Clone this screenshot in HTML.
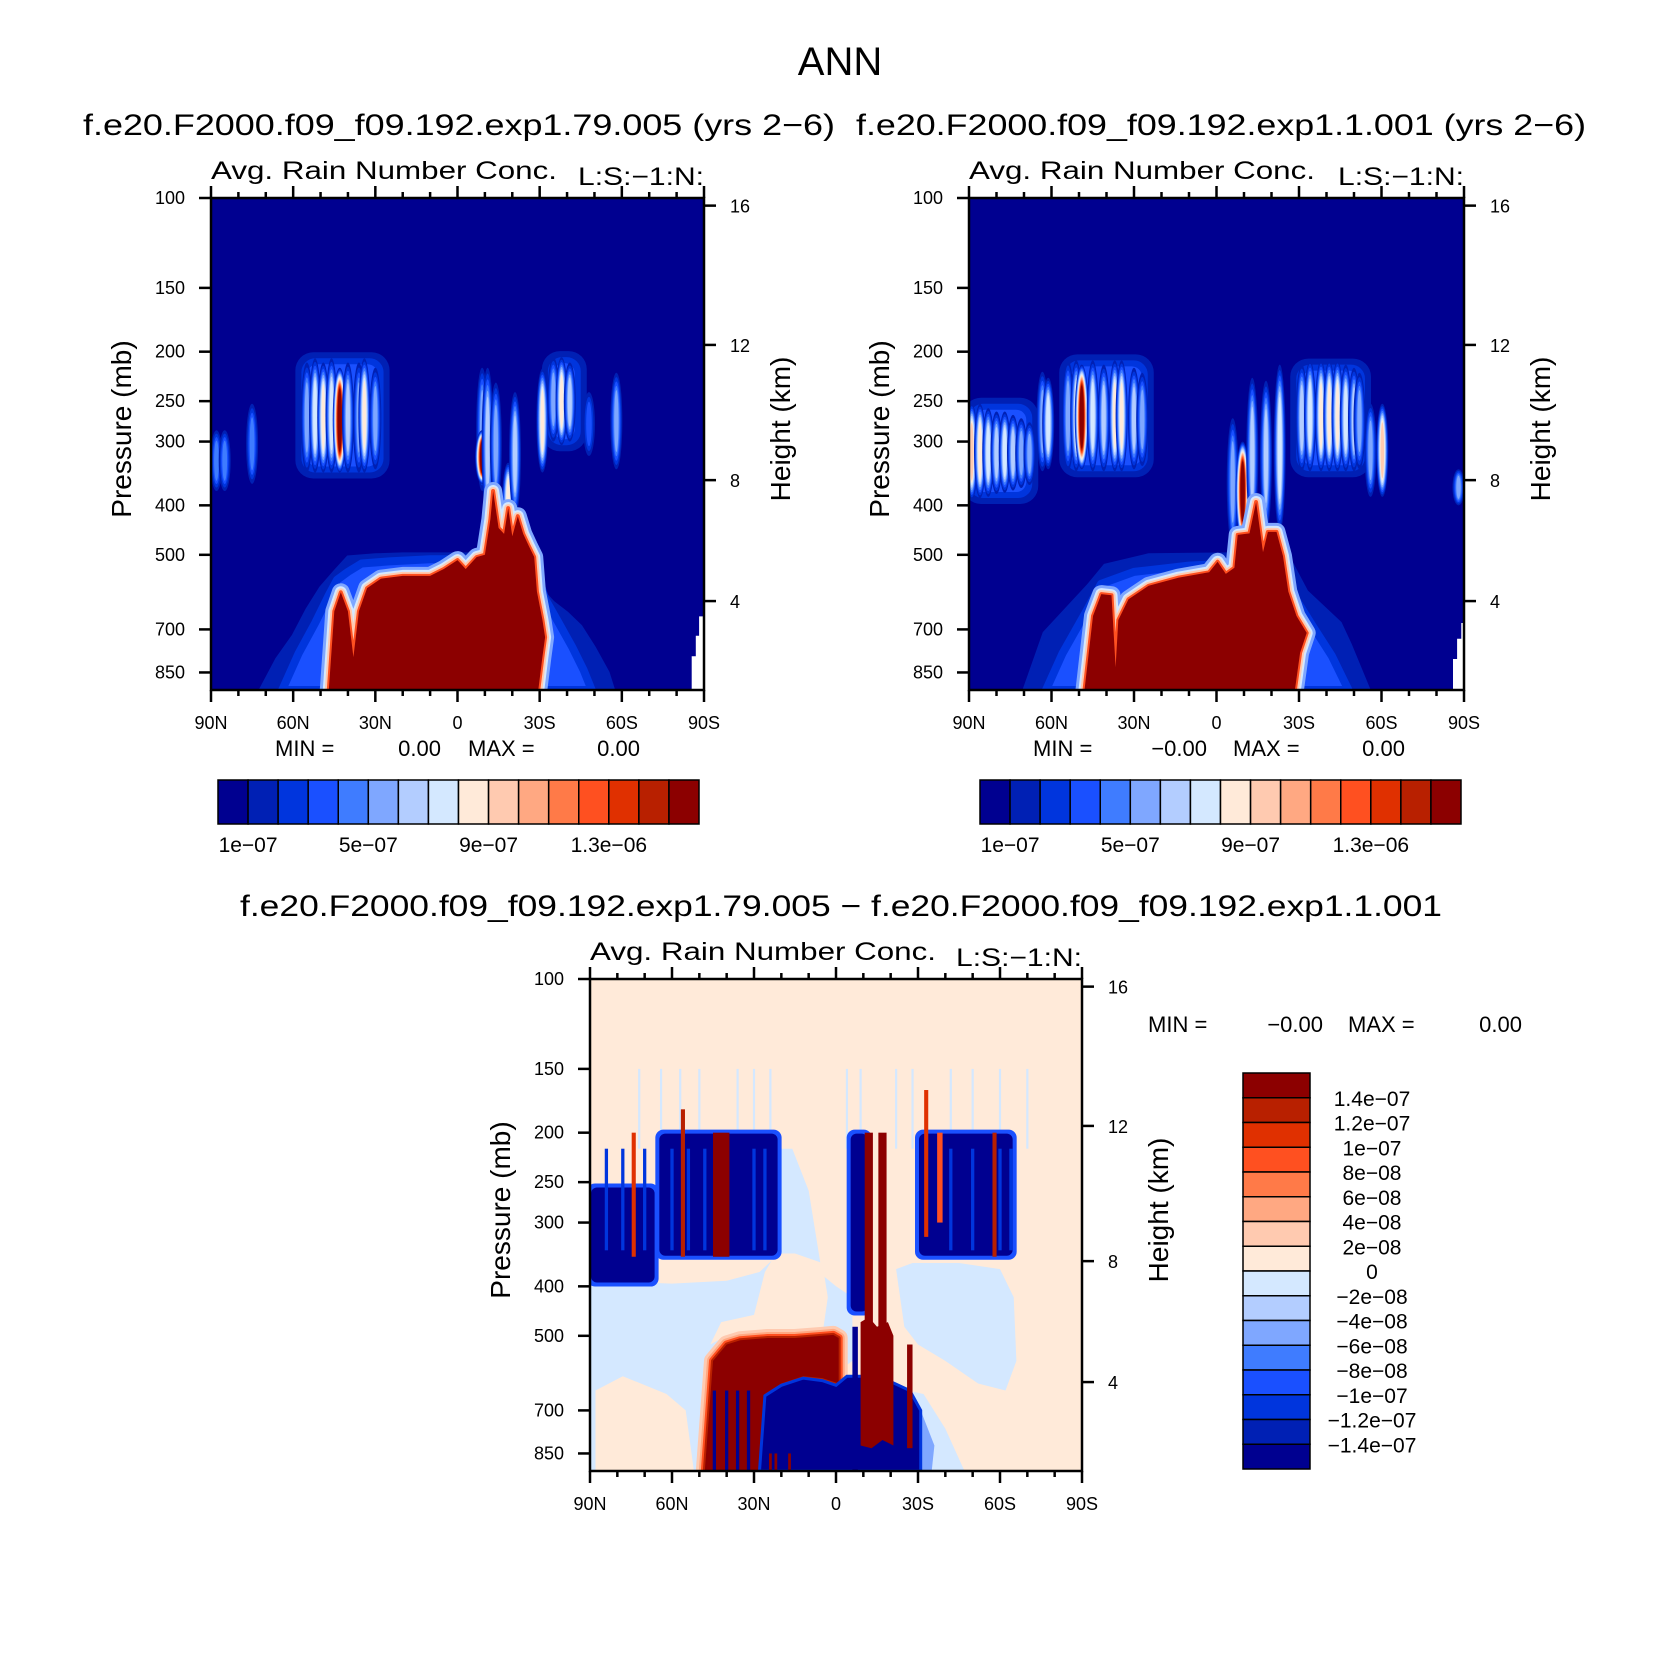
<!DOCTYPE html>
<html><head><meta charset="utf-8"><style>
html,body{margin:0;padding:0;background:#fff;}
svg{display:block;font-family:"Liberation Sans",sans-serif;}
</style></head><body>
<svg id="fig" width="1669" height="1666" viewBox="0 0 1669 1666" xmlns="http://www.w3.org/2000/svg">
<text x="840" y="75" font-size="40" text-anchor="middle">ANN</text>
<text x="83" y="135" font-size="30" textLength="752" lengthAdjust="spacingAndGlyphs">f.e20.F2000.f09_f09.192.exp1.79.005 (yrs 2−6)</text>
<text x="856" y="135" font-size="30" textLength="730" lengthAdjust="spacingAndGlyphs">f.e20.F2000.f09_f09.192.exp1.1.001 (yrs 2−6)</text>
<text x="240" y="916" font-size="30" textLength="1202" lengthAdjust="spacingAndGlyphs">f.e20.F2000.f09_f09.192.exp1.79.005 − f.e20.F2000.f09_f09.192.exp1.1.001</text>
<g id="root"></g>
</svg>
<script>
// ---------- colour table ----------
const pal=['#000090','#0020B4','#0035DD','#1A50FF','#3F7CFF','#7FA7FF','#B3CDFF','#D4E8FF','#FFEAD9','#FFCAB0','#FFA882','#FF7A48','#FF5020','#E03000','#B82000','#8C0000'];
// ---------- axes data ----------
const pTicks=[100,150,200,250,300,400,500,700,850];
const hTickLabels=['16','12','8','4'];
const hTickP=[103.5,194,357,616];
const latTicks=[90,60,30,0,-30,-60,-90];
const latTickLabels=['90N','60N','30N','0','30S','60S','90S'];
const topCbarLabels=['1e−07','5e−07','9e−07','1.3e−06'];
const topCbarLabelIdx=[1,5,9,13];
const diffCbarLabels=['1.4e−07','1.2e−07','1e−07','8e−08','6e−08','4e−08','2e−08','0','−2e−08','−4e−08','−6e−08','−8e−08','−1e−07','−1.2e−07','−1.4e−07'];
// ---------- panel 1 data ----------
const p1RedLat=[47,45,42.6,40,38,36,33,28,20,10,5,0,-3,-7,-10,-12,-13,-15,-17,-18.5,-20,-22,-24,-26,-28,-29,-31,-32,-31,-29.5];
const p1RedP=[920,645,592,645,793,645,581,557,550,550,533,512,533,505,500,426,375,443,455,405,460,420,455,480,505,590,670,725,793,920];
const p1HaloLat=[72,66,60,55,50,45,40,30,20,10,0,-10,-20,-27,-30,-35,-40,-45,-50,-55,-57];
const p1HaloP=[920,800,720,640,580,540,505,500,498,498,498,498,500,505,580,620,650,690,760,850,920];
const p1MidLat=[64,58,52,47,44,40,35,25,10,0,-10,-22,-28,-32,-37,-42,-46,-49];
const p1MidP=[920,780,680,600,560,540,520,515,510,510,505,505,520,610,680,760,840,920];
const p1CloudLat=[88,85,75,55,52,49,46,43,40,36,34,30,-9,-9,-11,-14,-18.5,-21,-31,-35,-38,-41,-48,-58];
const p1CloudTop=[285,285,253,210,206,210,206,215,210,210,206,215,215,285,215,230,330,240,216,205,205,210,240,220];
const p1CloudBot=[375,375,363,345,345,345,345,345,345,345,345,340,375,363,430,400,470,420,345,300,305,300,320,340];
const p1CloudLvl=[4,4,4,5,7,8,7,16,6,5,8,5,5,16,6,5,8,6,8,5,8,6,3,5];
const p1BlockLat1=[57,-33];
const p1BlockLat2=[27,-45];
const p1BlockTop=[206,205];
const p1BlockBot=[345,305];
const p1MissLat=[-84.5,-85.5,-85.5,-87,-87,-88.2,-88.2,-90,-90,-84.5];
const p1MissP=[920,920,790,790,720,720,660,660,920,920];
// ---------- panel 2 data ----------
const p2RedLat=[48,44.9,41.9,38.2,36.7,35.7,32,24.7,13.7,2.7,-0.4,-3.4,-6.5,-7.7,-12,-14.4,-16.9,-18.7,-21.8,-24.2,-26.1,-29.1,-32.8,-30.4,-28.5];
const p2RedP=[920,659,597,600,830,671,611,575,554,541,516,545,530,457,454,394,494,451,451,503,590,659,711,778,920];
const p2HaloLat=[70,62.7,46.8,40.6,24.7,-4.6,-26,-32.8,-45,-48.7,-55.5];
const p2HaloP=[920,711,575,524,500,498,503,590,680,750,920];
const p2MidLat=[62,56,47,42,30,10,-5,-24,-28,-35,-42,-48];
const p2MidP=[920,780,640,570,540,525,520,520,600,690,790,920];
const p2CloudLat=[89,86,83,80,77,74,71,68,63.3,61.2,54,51,49,45,41,37,34.5,30,27,-5.9,-9.5,-13,-18,-23,-31,-34,-38,-41,-44,-47,-50,-52,-56,-60.3,-88];
const p2CloudTop=[253,253,258,262,262,266,270,275,219,225,208,208,212,208,212,208,208,215,220,270,300,225,228,212,212,208,208,208,208,212,215,220,253,253,340];
const p2CloudBot=[390,387,385,380,378,374,370,365,343,340,343,343,340,343,343,343,343,340,335,480,470,450,450,450,343,343,343,343,343,343,343,340,385,385,400];
const p2CloudLvl=[9,8,7,6,7,6,5,5,5,7,5,7,16,7,6,8,8,6,5,5,16,6,6,7,6,7,8,8,8,7,6,5,5,9,5];
const p2BlockLat1=[90,55,-29];
const p2BlockLat2=[67,25,-54];
const p2BlockTop=[253,208,212];
const p2BlockBot=[387,343,343];
const p2MissLat=[-84,-86,-86,-87.5,-87.5,-89,-89,-90,-90,-84];
const p2MissP=[920,920,800,800,730,730,680,680,920,920];
// ---------- difference panel data ----------
const dBandLat=[90,60,40,28,22,20,16,10,5,0,-6,-6,48,90];
const dBandP=[390,395,390,375,350,215,215,260,380,400,420,560,920,920];
const dPeachLat=[46,42,30,26,22,15,5,3,5,10,25,40,46];
const dPeachP=[520,470,455,375,345,345,360,420,500,500,500,500,520];
const dPeachLowLat=[88,78,62,55,52,60,75,88];
const dPeachLowP=[640,600,650,700,920,920,920,920];
const dRightLat=[-22,-28,-45,-60,-65,-66,-62,-52,-40,-30,-25];
const dRightP=[370,360,360,370,420,560,640,620,560,520,480];
const dRightLowLat=[-26,-32,-40,-47,-44,-30];
const dRightLowP=[640,650,760,920,920,920];
const dRightInLat=[-27,-31,-36,-35,-29];
const dRightInP=[680,700,820,920,920];
const dBlkLat1=[90,65,-30,-5];
const dBlkLat2=[66,21,-65,-12];
const dBlkTop=[255,200,200,200];
const dBlkBot=[395,350,350,450];
const dTexLat=[84,78,70,60,54,48,30,26,-42,-50,-60,-64];
const dLightLat=[72,64,57,50,36,30,24,-4,-9,-22,-28,-42,-50,-60,-70];
const dRedBandLat=[48,45,40,35,25,15,5,1,-1,-1,5,12,20,26,28,48];
const dRedBandP=[920,560,520,510,505,505,500,498,505,620,605,600,620,650,920,920];
const dNavyLat=[28,26,20,12,5,0,-4,-10,-20,-27,-31,-31,28];
const dNavyP=[920,655,625,605,612,625,600,600,615,640,700,920,920];
const dColLat=[-9,-12,-15,-19,-21,-21,-17,-13,-9];
const dColP=[470,460,480,470,500,820,800,830,820];
const dStripeLat=[74,56,42,-12,-17,-33,-38,-58,-7,-27,44.5,40,36,32,24,22,17];
const dStripeW=[1.5,1.5,6,3,3,1.5,2,1.5,2,2,1.2,1.2,1.2,1.2,1,1,1];
const dStripeTop=[200,180,200,200,200,165,200,200,480,520,640,640,640,640,850,850,850];
const dStripeBot=[350,350,350,520,500,320,300,350,920,830,920,920,920,920,920,920,920];
const dStripeCol=[13,14,15,15,15,13,12,14,0,15,0,0,0,0,15,15,15];

// ---------- helpers ----------
const NS='http://www.w3.org/2000/svg';
const root=document.getElementById('root');
const PB=920, LR=Math.log10(PB/100);
function el(tag,attrs,parent){const e=document.createElementNS(NS,tag);for(const k in attrs)e.setAttribute(k,attrs[k]);(parent||root).appendChild(e);return e;}
function mkAxes(P){
  P.x=lat=>P.L+(90-lat)/180*P.W;
  P.y=p=>P.T+Math.log10(p/100)/LR*P.H;
  return P;
}
function pts(P,lats,ps){return lats.map((l,i)=>P.x(l).toFixed(1)+','+P.y(ps[i]).toFixed(1)).join(' ');}
function poly(g,P,lats,ps,fill,name,extra){
  const e=el('polygon',Object.assign({points:pts(P,lats,ps),fill:fill},extra||{}),g);
  
  
  return e;
}
function redRegion(g,P,lats,ps,edge){
  const ws=[18,12,8,4],cs=edge||[pal[5],pal[7],pal[9],pal[12]];
  ws.forEach((w,i)=>{
    poly(g,P,lats,ps,'none','red-region-edge',{stroke:cs[i],'stroke-width':w,'stroke-linejoin':'round'});
  });
  poly(g,P,lats,ps,pal[15],'red-region');
}
function clouds(g,P,lats,tops,bots,lvls){
  lats.forEach((lat,i)=>{
    const cx=P.x(lat),y1=P.y(tops[i]),y2=P.y(bots[i]);
    const cy=(y1+y2)/2,ry=(y2-y1)/2,rx=lvls[i]>=16?7:6;
    for(let k=1;k<=lvls[i];k++){
      const s=(k-1)/lvls[i];
      const e=el('ellipse',{cx:cx,cy:cy,rx:Math.max(1,rx*(1-0.8*s)),ry:ry*(1-0.45*s),fill:pal[Math.min(k,15)]},g);
      
      
    }
  });
}
function blocks(g,P,l1,l2,t,b,col,pad,rr){
  l1.forEach((a,i)=>{
    const x1=P.x(a),x2=P.x(l2[i]),y1=P.y(t[i]),y2=P.y(b[i]);
    const e=el('rect',{x:x1-pad,y:y1-pad,width:x2-x1+2*pad,height:y2-y1+2*pad,rx:rr,fill:col},g);
    
    
  });
}
function stripes(g,P,lats,ws,tops,bots,cols,name){
  lats.forEach((lat,i)=>{
    const hw=ws[i]*P.W/360,x=P.x(lat),y1=P.y(tops[i]),y2=P.y(bots[i]);
    const e=el('rect',{x:x-hw,y:y1,width:2*hw,height:y2-y1,fill:pal[cols[i]]},g);
    
    
  });
}
function frameAndAxes(P,id){
  const g=el('g',{});
  
  
  const fr=el('rect',{x:P.L,y:P.T,width:P.W,height:P.H,fill:'none',stroke:'#000','stroke-width':2.5},g);
  
  
  pTicks.forEach(p=>{
    const y=P.y(p);
    el('line',{x1:P.L-12,x2:P.L,y1:y,y2:y,stroke:'#000','stroke-width':2.5},g);
    const t=el('text',{x:P.L-26,y:y+6,'font-size':18,'text-anchor':'end'},g);
    t.textContent=String(p);
    
    
  });
  hTickP.forEach((p,i)=>{
    const y=P.y(p);
    el('line',{x1:P.L+P.W,x2:P.L+P.W+12,y1:y,y2:y,stroke:'#000','stroke-width':2.5},g);
    const t=el('text',{x:P.L+P.W+26,y:y+7,'font-size':18},g);
    t.textContent=hTickLabels[i];
    
    
  });
  for(let lat=90;lat>=-90;lat-=10){
    const x=P.x(lat),major=lat%30===0,len=major?12:6;
    el('line',{x1:x,x2:x,y1:P.T-len,y2:P.T,stroke:'#000','stroke-width':2.5},g);
    el('line',{x1:x,x2:x,y1:P.T+P.H,y2:P.T+P.H+len,stroke:'#000','stroke-width':2.5},g);
  }
  latTicks.forEach((lat,i)=>{
    const t=el('text',{x:P.x(lat),y:P.T+P.H+39,'font-size':18,'text-anchor':'middle'},g);
    t.textContent=latTickLabels[i];
    
    
  });
  const cy=P.T+P.H/2-15;
  const a=el('text',{x:0,y:0,'font-size':28,'text-anchor':'middle',transform:`translate(${P.L-80},${cy}) rotate(-90)`},g);
  a.textContent='Pressure  (mb)';
  
  
  const b=el('text',{x:0,y:0,'font-size':28,'text-anchor':'middle',transform:`translate(${P.L+P.W+86},${cy}) rotate(-90)`},g);
  b.textContent='Height  (km)';
  
  
  const s=el('text',{x:P.L,y:P.T-19,'font-size':25,textLength:346,lengthAdjust:'spacingAndGlyphs'},g);
  s.textContent='Avg.  Rain  Number  Conc.';
  
  
  const r=el('text',{x:P.L+P.W,y:P.T-13,'font-size':25,'text-anchor':'end',textLength:126,lengthAdjust:'spacingAndGlyphs'},g);
  r.textContent='L:S:−1:N:';
  
  
}
function panelGroup(P,id){
  const cp=el('clipPath',{id:'clip'+id});
  el('rect',{x:P.L,y:P.T,width:P.W,height:P.H},cp);
  const g=el('g',{'clip-path':`url(#clip${id})`});
  
  
  return g;
}
function txt(x,y,s,size,anchor,name){
  const t=el('text',{x:x,y:y,'font-size':size,'text-anchor':anchor||'start'});
  t.textContent=s;
  
  
}
function topPanel(P,id,red,halo,mid,cl,bl,miss){
  const g=panelGroup(P,id);
  el('rect',{x:P.L,y:P.T,width:P.W,height:P.H,fill:pal[0]},g);
  blocks(g,P,bl[0],bl[1],bl[2],bl[3],pal[1],6,18);
  blocks(g,P,bl[0],bl[1],bl[2],bl[3],pal[2],0,14);
  blocks(g,P,bl[0],bl[1],bl[2],bl[3],pal[3],-6,10);
  clouds(g,P,cl[0],cl[1],cl[2],cl[3]);
  poly(g,P,halo[0],halo[1],pal[1],'halo-outer',{stroke:pal[1],'stroke-width':3});
  poly(g,P,mid[0],mid[1],pal[3],'halo-mid',{stroke:pal[2],'stroke-width':8,'stroke-linejoin':'round'});
  redRegion(g,P,red[0],red[1]);
  poly(g,P,miss[0],miss[1],'#ffffff','missing-data');
  frameAndAxes(P,id);
}
function topCbar(x0,y0,w,h,id){
  const g=el('g',{});
  
  
  const bw=w/16;
  for(let i=0;i<16;i++){
    const r=el('rect',{x:x0+i*bw,y:y0,width:bw,height:h,fill:pal[i],stroke:'#000','stroke-width':1.5},g);
    
    
  }
  topCbarLabels.forEach((s,i)=>{
    const t=el('text',{x:x0+topCbarLabelIdx[i]*bw,y:y0+h+28,'font-size':21,'text-anchor':'middle'},g);
    t.textContent=s;
    
    
  });
}
// ---------- panels ----------
const P1=mkAxes({L:211,T:198,W:493,H:492});
const P2=mkAxes({L:969,T:198,W:495,H:492});
const P3=mkAxes({L:590,T:979,W:492,H:492});
topPanel(P1,'left-panel',[p1RedLat,p1RedP],[p1HaloLat,p1HaloP],[p1MidLat,p1MidP],[p1CloudLat,p1CloudTop,p1CloudBot,p1CloudLvl],[p1BlockLat1,p1BlockLat2,p1BlockTop,p1BlockBot],[p1MissLat,p1MissP]);
topPanel(P2,'right-panel',[p2RedLat,p2RedP],[p2HaloLat,p2HaloP],[p2MidLat,p2MidP],[p2CloudLat,p2CloudTop,p2CloudBot,p2CloudLvl],[p2BlockLat1,p2BlockLat2,p2BlockTop,p2BlockBot],[p2MissLat,p2MissP]);
// difference panel
(function(){
  const P=P3,g=panelGroup(P,'difference-panel');
  el('rect',{x:P.L,y:P.T,width:P.W,height:P.H,fill:pal[8]},g);
  poly(g,P,dBandLat,dBandP,pal[7],'negative-band');
  poly(g,P,dPeachLat,dPeachP,pal[8],'positive-patch');
  poly(g,P,dPeachLowLat,dPeachLowP,pal[8],'positive-patch-low');
  poly(g,P,dRightLat,dRightP,pal[7],'negative-region-south');
  poly(g,P,dRightLowLat,dRightLowP,pal[7],'negative-region-low');
  poly(g,P,dRightInLat,dRightInP,pal[5],'negative-region-inner');
  stripes(g,P,dLightLat,dLightLat.map(()=>0.8),dLightLat.map(()=>150),dLightLat.map(()=>215),dLightLat.map(()=>7),'light-stripe');
  blocks(g,P,dBlkLat1,dBlkLat2,dBlkTop,dBlkBot,pal[3],3,8);
  blocks(g,P,dBlkLat1,dBlkLat2,dBlkTop,dBlkBot,pal[0],-1,6);
  stripes(g,P,dTexLat,dTexLat.map(()=>1.2),dTexLat.map(()=>215),dTexLat.map(()=>340),dTexLat.map(()=>2),'texture-stripe');
  redRegion(g,P,dRedBandLat,dRedBandP,[pal[9],pal[10],pal[12],pal[14]]);
  poly(g,P,dNavyLat,dNavyP,pal[0],'negative-mass',{stroke:pal[2],'stroke-width':3});
  poly(g,P,dColLat,dColP,pal[15],'positive-column');
  stripes(g,P,dStripeLat,dStripeW,dStripeTop,dStripeBot,dStripeCol,'difference-stripe');
  frameAndAxes(P,'difference-panel');
})();
// ---------- colorbars & stats ----------
topCbar(218,780,481,44,'left-colorbar');
topCbar(980,780,481,44,'right-colorbar');
(function(){
  const g=el('g',{});
  
  
  const x0=1243,y0=1073,w=67,bh=24.75;
  for(let i=0;i<16;i++){
    const r=el('rect',{x:x0,y:y0+i*bh,width:w,height:bh,fill:pal[15-i],stroke:'#000','stroke-width':1.5},g);
    
    
  }
  diffCbarLabels.forEach((s,i)=>{
    const t=el('text',{x:1372,y:y0+(i+1)*bh+8,'font-size':21,'text-anchor':'middle'},g);
    t.textContent=s;
    
    
  });
})();
txt(275,756,'MIN  =',22,'start','min-label');
txt(441,756,'0.00',22,'end','min-value');
txt(468,756,'MAX  =',22,'start','max-label');
txt(640,756,'0.00',22,'end','max-value');
txt(1033,756,'MIN  =',22,'start','min-label');
txt(1207,756,'−0.00',22,'end','min-value');
txt(1233,756,'MAX  =',22,'start','max-label');
txt(1405,756,'0.00',22,'end','max-value');
txt(1148,1032,'MIN  =',22,'start','min-label');
txt(1323,1032,'−0.00',22,'end','min-value');
txt(1348,1032,'MAX  =',22,'start','max-label');
txt(1522,1032,'0.00',22,'end','max-value');
</script>
</body></html>
